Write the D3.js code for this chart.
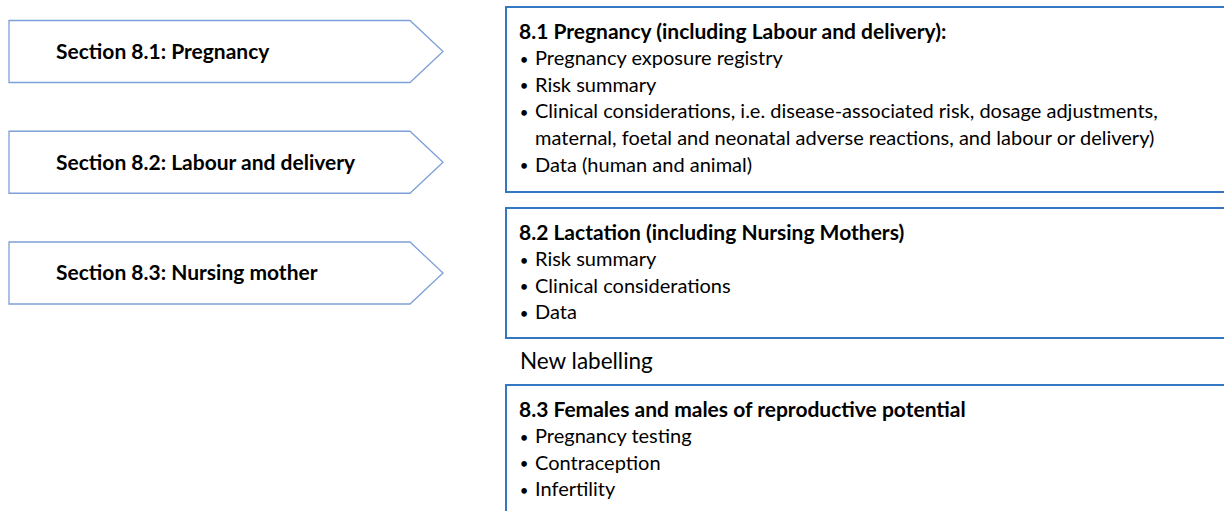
<!DOCTYPE html>
<html>
<head>
<meta charset="utf-8">
<script src="https://cdn.jsdelivr.net/npm/d3@7"></script>
<style>
  html, body { margin: 0; padding: 0; background: #fff; }
  svg { display: block; font-family: Lato, "Open Sans", sans-serif; }
</style>
</head>
<body>
<svg id="chart" width="1224" height="511"></svg>
<script>
// old labelling sections (left arrows)
const arrowLabels = ["Section 8.1: Pregnancy", "Section 8.2: Labour and delivery", "Section 8.3: Nursing mother"];

// new labelling boxes (right)
const boxHeadings = [
  "8.1 Pregnancy (including Labour and delivery):",
  "8.2 Lactation (including Nursing Mothers)",
  "8.3 Females and males of reproductive potential"
];
const box1Bullets = [
  ["Pregnancy exposure registry"],
  ["Risk summary"],
  ["Clinical considerations, i.e. disease-associated risk, dosage adjustments,",
   "maternal, foetal and neonatal adverse reactions, and labour or delivery)"],
  ["Data (human and animal)"]
];
const box2Bullets = [["Risk summary"], ["Clinical considerations"], ["Data"]];
const box3Bullets = [["Pregnancy testing"], ["Contraception"], ["Infertility"]];
const sideNote = "New labelling";

const svg = d3.select("#chart");
const W = +svg.attr("width");

// --- left arrows
const arrowY = d3.scalePoint().domain(arrowLabels).range([51.5, 273]);
const arrowH = 62, arrowX0 = 9, arrowBody = 410, arrowTip = 443;

arrowLabels.forEach(lbl => {
  const cy = arrowY(lbl);
  const top = cy - arrowH / 2, bot = cy + arrowH / 2;
  svg.append("path")
    .attr("d", `M${arrowX0},${top}H${arrowBody}L${arrowTip},${cy}L${arrowBody},${bot}H${arrowX0}Z`)
    .attr("fill", "#fff")
    .attr("stroke", "#7da0d8")
    .attr("stroke-width", 1.3);
  svg.append("text")
    .attr("x", 56)
    .attr("y", cy + 2)
    .attr("dominant-baseline", "middle")
    .style("font-size", "21px")
    .style("font-weight", "bold")
    .attr("fill", "#000")
    .text(lbl);
});

// --- right boxes
const boxX = 506, lineStep = 26.6, headOff = 26.5;
const boxes = [
  { heading: boxHeadings[0], bullets: box1Bullets, top: 7, bottom: 192 },
  { heading: boxHeadings[1], bullets: box2Bullets, top: 208, bottom: 338 },
  { heading: boxHeadings[2], bullets: box3Bullets, top: 385, bottom: 540 }
];

boxes.forEach(b => {
  svg.append("rect")
    .attr("x", boxX)
    .attr("y", b.top)
    .attr("width", W + 20 - boxX)
    .attr("height", b.bottom - b.top)
    .attr("fill", "none")
    .attr("stroke", "#3477c2")
    .attr("stroke-width", 2);

  const y = d3.scaleLinear().domain([0, 1]).range([b.top + headOff, b.top + headOff + lineStep]);

  svg.append("text")
    .attr("x", 519)
    .attr("y", y(0))
    .attr("dominant-baseline", "middle")
    .style("font-size", "21px")
    .style("font-weight", "bold")
    .attr("fill", "#000")
    .text(b.heading);

  let idx = 1;
  b.bullets.forEach(lines => {
    svg.append("text")
      .attr("x", 524)
      .attr("y", y(idx) + 1)
      .attr("text-anchor", "middle")
      .attr("dominant-baseline", "middle")
      .style("font-size", "15px")
      .attr("fill", "#000")
      .text("•");
    lines.forEach(t => {
      svg.append("text")
        .attr("x", 535)
        .attr("y", y(idx))
        .attr("dominant-baseline", "middle")
        .style("font-size", "20px")
        .attr("fill", "#000")
        .text(t);
      idx++;
    });
  });
});

svg.append("text")
  .attr("x", 520)
  .attr("y", 363)
  .attr("dominant-baseline", "middle")
  .style("font-size", "22.5px")
  .attr("fill", "#000")
  .text(sideNote);
</script>
</body>
</html>
